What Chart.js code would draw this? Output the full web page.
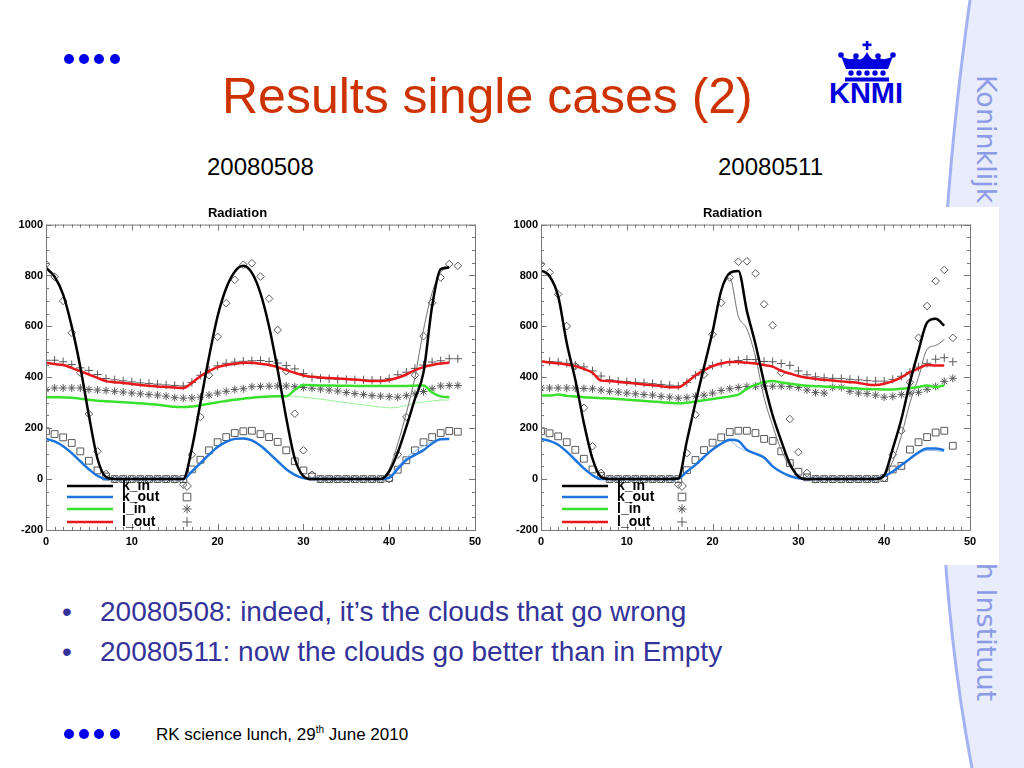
<!DOCTYPE html>
<html>
<head>
<meta charset="utf-8">
<script src="https://cdn.jsdelivr.net/npm/chart.js@4.4.0/dist/chart.umd.min.js"></script>
<style>
  body { margin: 0; width: 1024px; height: 768px; position: relative; overflow: hidden; background: #fff;
         font-family: "Liberation Sans", Arial, sans-serif; }
  .abs { position: absolute; white-space: nowrap; line-height: 1; }
  #title { left: 222px; top: 71px; font-size: 50px; color: #cc3300; }
  .date { top: 155px; font-size: 24px; color: #000; }
  .bullet { left: 62px; font-size: 28px; color: #333399; }
  .bullet span { position: absolute; left: 38px; }
  #foot { left: 156px; top: 725px; font-size: 17px; color: #000; }
  #foot sup { font-size: 10px; vertical-align: 7px; }
  #side { left: 1001px; top: 75px; font-family: "DejaVu Sans", sans-serif; font-size: 27px; color: #8c9be6;
          transform-origin: 0 0; transform: rotate(90deg); line-height: 30px; }
  #rbox { left: 505px; top: 207px; width: 494px; height: 358px; background: #fff; }
  canvas { position: absolute; top: 200px; }
</style>
</head>
<body>
<svg class="abs" style="left:0;top:0" width="1024" height="768">
  <path d="M970,0 C935,250 925,520 972,768 L1024,768 L1024,0 Z" fill="#e9ecfb"/>
  <path d="M970,0 C935,250 925,520 972,768" fill="none" stroke="#a3b2f2" stroke-width="3"/>
  <g fill="#0000e8">
    <circle cx="69" cy="59" r="5"/><circle cx="84" cy="59" r="5"/><circle cx="99" cy="59" r="5"/><circle cx="115" cy="59" r="5"/>
    <circle cx="69" cy="734" r="5"/><circle cx="84" cy="734" r="5"/><circle cx="99" cy="734" r="5"/><circle cx="115" cy="734" r="5"/>
  </g>
  <g fill="#0000dd">
    <rect x="865.8" y="41" width="2.6" height="9"/>
    <rect x="862.5" y="43.5" width="9" height="2.6"/>
    <path d="M846,69 L841,56 Q850,62 856,57 Q861,64 867,52 Q873,64 878,57 Q884,62 893,56 L888,69 Z"/>
    <circle cx="841" cy="55" r="2.8"/><circle cx="856" cy="56" r="2.8"/><circle cx="878" cy="56" r="2.8"/><circle cx="893" cy="55" r="2.8"/>
    <circle cx="851" cy="73" r="2.7"/><circle cx="859" cy="73" r="2.7"/><circle cx="867" cy="73" r="2.7"/><circle cx="875" cy="73" r="2.7"/><circle cx="883" cy="73" r="2.7"/>
    <rect x="845" y="77.5" width="44" height="4"/>
    <text x="866" y="103" text-anchor="middle" font-family="Liberation Sans, Arial, sans-serif" font-weight="bold" font-size="29">KNMI</text>
  </g>
</svg>
<div class="abs" id="side">Koninklijk Nederlands Meteorologisch Instituut</div>
<div class="abs" id="title">Results single cases (2)</div>
<div class="abs date" style="left:207px">20080508</div>
<div class="abs date" style="left:718px">20080511</div>
<div class="abs" id="rbox"></div>
<canvas id="c1" width="490" height="355" style="left:0"></canvas>
<canvas id="c2" width="490" height="355" style="left:495px"></canvas>
<div class="abs bullet" style="top:598px">•<span>20080508: indeed, it’s the clouds that go wrong</span></div>
<div class="abs bullet" style="top:638px">•<span>20080511: now the clouds go better than in Empty</span></div>
<div class="abs" id="foot">RK science lunch, 29<sup>th</sup> June 2010</div>

<script>
// time axis (hours)
const lineHours = [0,1,2,3,4,5,6,7,8,9,10,11,12,13,14,15,16,17,18,19,20,21,22,23,24,25,26,27,28,29,30,31,32,33,34,35,36,37,38,39,40,41,42,43,44,45,46,47];
const markHours = [0,1,2,3,4,5,6,7,8,9,10,11,12,13,14,15,16,17,18,19,20,21,22,23,24,25,26,27,28,29,30,31,32,33,34,35,36,37,38,39,40,41,42,43,44,45,46,47,48];
const xTicks = [0,10,20,30,40,50];
const yTicks = [-200,0,200,400,600,800,1000];
const legendNames = ['k_in','k_out','l_in','l_out'];

// 20080508 - model lines
const aKin     = [830,795,725,600,440,250,80,8,0,0,0,0,0,0,0,0,0,120,300,480,640,750,815,838,810,730,600,430,240,80,12,0,0,0,0,0,0,0,0,0,30,105,206,315,420,679,825,832];
const aKinThin = [830,795,725,600,440,250,80,8,0,0,0,0,0,0,0,0,0,120,300,480,640,750,815,838,810,730,600,430,240,80,12,0,0,0,0,0,0,0,0,0,40,140,260,400,587,732,812,830];
const aKout    = [158,148,129,102,70,39,13,0,0,0,0,0,0,0,0,0,0,30,63,96,126,146,158,160,152,131,102,70,39,17,4,0,0,0,0,0,0,0,0,0,5,40,75,95,114,140,157,158];
const aKoutThin= [158,148,129,102,70,39,13,0,0,0,0,0,0,0,0,0,0,30,63,96,126,146,158,160,152,131,102,70,39,17,4,0,0,0,0,0,0,0,0,0,8,50,85,110,130,148,158,158];
const aLin     = [322,322,321,320,316,312,308,306,304,302,300,298,295,292,288,284,283,285,290,296,302,307,312,316,320,323,325,326,326,350,370,369,368,368,367,367,366,366,366,366,366,366,366,367,368,340,325,322];
const aLinThin = [322,322,321,320,316,312,308,306,304,302,300,298,295,292,288,284,283,285,290,296,302,307,312,316,320,323,325,326,326,326,322,318,314,310,305,300,296,292,287,283,280,282,290,298,303,307,310,311];
const aLout    = [457,452,448,437,424,411,398,385,381,378,374,370,367,364,362,360,358,378,404,424,440,448,453,457,457,453,448,440,428,418,407,402,399,397,395,393,391,388,385,385,389,398,411,428,440,448,454,457];
// 20080508 - observations
const aDiam = [845,795,700,575,418,256,109,20,0,0,0,0,0,0,0,0,-22,96,244,408,559,691,783,842,848,796,709,586,424,257,113,17,0,0,0,0,0,0,0,0,0,96,244,408,562,693,792,845,838];
const aSq   = [188,177,164,142,109,72,34,10,0,0,0,0,0,0,0,0,0,38,76,113,145,165,181,188,190,177,165,146,113,70,34,10,0,0,0,0,0,0,0,0,4,37,74,113,145,165,181,189,186];
const aAst  = [352,358,358,358,358,352,350,348,345,342,338,335,332,330,326,320,318,319,322,330,338,345,352,355,363,364,365,366,366,363,360,357,354,350,346,340,336,332,328,326,324,322,328,335,344,355,366,368,368];
const aPlus = [467,467,461,450,437,427,411,395,390,386,382,378,376,373,370,368,366,380,408,428,445,455,460,463,465,466,462,456,446,433,415,400,396,394,392,391,390,390,389,389,395,410,420,435,448,460,465,473,473];

// 20080511 - model lines
const bKin     = [821,797,719,535,390,220,80,8,0,0,0,0,0,0,0,0,2,150,300,440,580,740,810,818,660,530,380,250,150,60,10,0,0,0,0,0,0,0,0,0,15,120,235,380,505,615,630,603];
const bKinThin = [821,797,719,535,390,220,80,8,0,0,0,0,0,0,0,0,2,150,300,440,580,740,790,640,590,480,320,210,115,50,12,0,0,0,0,0,0,0,0,0,15,70,170,300,400,510,525,548];
const bKout    = [158,150,135,108,75,42,15,0,0,0,0,0,0,0,0,0,2,30,56,87,116,139,155,150,115,100,85,50,28,12,3,0,0,0,0,0,0,0,0,0,12,30,55,80,105,120,120,114];
const bKoutThin= [158,150,135,108,75,42,15,0,0,0,0,0,0,0,0,0,2,30,56,87,116,139,150,125,110,98,82,50,28,12,3,0,0,0,0,0,0,0,0,0,12,30,55,80,100,112,112,108];
const bLin     = [328,328,332,327,325,322,320,318,317,315,312,310,307,305,302,300,298,300,305,310,315,320,325,332,355,370,381,385,380,375,370,367,365,364,362,360,358,356,354,353,352,352,355,358,362,368,362,368];
const bLout    = [463,458,455,450,444,433,418,387,385,382,379,376,372,369,365,361,361,381,407,428,444,454,460,460,457,454,448,442,425,415,405,398,394,390,387,384,381,378,372,370,375,385,400,420,435,448,446,446];
// 20080511 - observations
const bDiam = [845,812,726,601,444,280,129,24,0,0,0,0,0,0,0,0,-22,102,253,411,569,693,792,854,856,808,687,604,418,236,106,24,0,0,0,0,0,0,0,0,4,96,190,380,555,680,778,822,555];
const bSq   = [188,180,168,145,115,80,38,12,0,0,0,0,0,0,0,0,0,35,75,114,143,164,185,190,190,181,158,150,109,63,29,7,0,0,0,0,0,0,0,0,4,38,52,116,145,165,183,190,131];
const bAst  = [358,358,358,358,358,356,355,350,345,342,338,335,332,330,325,322,318,320,325,330,338,348,355,360,364,365,366,365,365,364,360,350,340,338,360,360,345,338,336,330,322,325,332,338,341,353,364,384,396];
const bPlus = [463,462,460,455,448,441,425,405,390,385,383,380,378,375,372,369,366,380,408,430,446,455,460,466,470,470,462,461,454,447,425,410,402,398,396,395,392,390,387,385,385,392,404,420,440,455,471,477,461];

const FONT = '"Liberation Sans", Arial, sans-serif';
const lineCols = ['#000000', '#1c74dc', '#3ae02e', '#e8191c'];
const thinCols = ['#707070', '#8dbdf0', '#9af094', '#f09090'];
const markStyles = ['rectRot', 'rect', 'star', 'cross'];
const markSizes = [3.8, 4.8, 4, 4.2];

function xy(hours, vals) {
  return vals.map((v, i) => ({x: hours[i], y: v}));
}

function lineSet(vals, col, width, order) {
  return {data: xy(lineHours, vals), borderColor: col, borderWidth: width, pointRadius: 0,
          cubicInterpolationMode: 'monotone', fill: false, order: order};
}

function markSet(vals, k) {
  return {data: xy(markHours, vals), showLine: false, pointStyle: markStyles[k], pointRadius: markSizes[k],
          borderColor: '#5a5a5a', backgroundColor: 'rgba(0,0,0,0)', pointBorderWidth: 1, order: 3};
}

// IDL-like box with inward ticks, plus the legend inside the plot
const idlBox = {
  id: 'idlBox',
  afterDraw(chart) {
    const ctx = chart.ctx, a = chart.chartArea, sx = chart.scales.x, sy = chart.scales.y;
    ctx.save();
    ctx.strokeStyle = '#777';
    ctx.lineWidth = 1;
    ctx.strokeRect(a.left + 0.5, a.top + 0.5, a.right - a.left, a.bottom - a.top);
    ctx.beginPath();
    for (let v = 0; v <= 50; v++) {
      const px = Math.round(sx.getPixelForValue(v)) + 0.5, len = v % 10 === 0 ? 6 : 3;
      ctx.moveTo(px, a.bottom); ctx.lineTo(px, a.bottom - len);
      ctx.moveTo(px, a.top); ctx.lineTo(px, a.top + len);
    }
    for (let v = -200; v <= 1000; v += 50) {
      const py = Math.round(sy.getPixelForValue(v)) + 0.5, len = v % 200 === 0 ? 6 : 3;
      ctx.moveTo(a.left, py); ctx.lineTo(a.left + len, py);
      ctx.moveTo(a.right, py); ctx.lineTo(a.right - len, py);
    }
    ctx.stroke();

    // legend
    const rows = [-44, -33, -21, -8];
    ctx.font = 'bold 14px ' + FONT;
    ctx.textBaseline = 'middle';
    rows.forEach((dy, k) => {
      const y = a.bottom + dy;
      ctx.strokeStyle = lineCols[k];
      ctx.lineWidth = 2.5;
      ctx.beginPath();
      ctx.moveTo(a.left + 21, y); ctx.lineTo(a.left + 67, y);
      ctx.stroke();
      ctx.fillStyle = '#000';
      ctx.fillText(legendNames[k], a.left + 76, y);
      ctx.strokeStyle = '#5a5a5a';
      ctx.fillStyle = 'rgba(0,0,0,0)';
      ctx.lineWidth = 1;
      Chart.helpers.drawPoint(ctx, {pointStyle: markStyles[k], radius: markSizes[k] + 0.6, borderWidth: 1}, a.left + 141, y);
    });
    ctx.restore();
  }
};

function makeChart(id, thick, thin, marks) {
  const sets = [];
  thick.forEach((v, k) => sets.push(lineSet(v, lineCols[k], 2.5, 0)));
  thin.forEach(t => sets.push(lineSet(t[0], thinCols[t[1]], 1, 1)));
  marks.forEach((v, k) => sets.push(markSet(v, k)));
  return new Chart(document.getElementById(id).getContext('2d'), {
    type: 'line',
    data: {datasets: sets},
    options: {
      responsive: false,
      animation: false,
      layout: {padding: {right: 15}},
      plugins: {
        legend: {display: false},
        tooltip: {enabled: false},
        title: {display: true, text: 'Radiation', color: '#000',
                font: {family: FONT, size: 13, weight: 'bold'}, padding: {top: 6, bottom: 3}}
      },
      scales: {
        x: {
          type: 'linear', min: 0, max: 50,
          afterBuildTicks: s => { s.ticks = xTicks.map(v => ({value: v})); },
          ticks: {color: '#000', font: {family: FONT, size: 11, weight: 'bold'}, padding: 5, maxRotation: 0,
                  callback: v => String(v)},
          grid: {display: false, drawTicks: false},
          border: {display: false},
          afterFit: s => { s.height = 25; }
        },
        y: {
          min: -200, max: 1000,
          afterBuildTicks: s => { s.ticks = yTicks.map(v => ({value: v})); },
          ticks: {color: '#000', font: {family: FONT, size: 11, weight: 'bold'}, padding: 3,
                  callback: v => String(v)},
          grid: {display: false, drawTicks: false},
          border: {display: false},
          afterFit: s => { s.width = 46; }
        }
      }
    },
    plugins: [idlBox]
  });
}

const chartA = makeChart('c1', [aKin, aKout, aLin, aLout],
  [[aKinThin, 0], [aKoutThin, 1], [aLinThin, 2]], [aDiam, aSq, aAst, aPlus]);
const chartB = makeChart('c2', [bKin, bKout, bLin, bLout],
  [[bKinThin, 0], [bKoutThin, 1]], [bDiam, bSq, bAst, bPlus]);
</script>
</body>
</html>
